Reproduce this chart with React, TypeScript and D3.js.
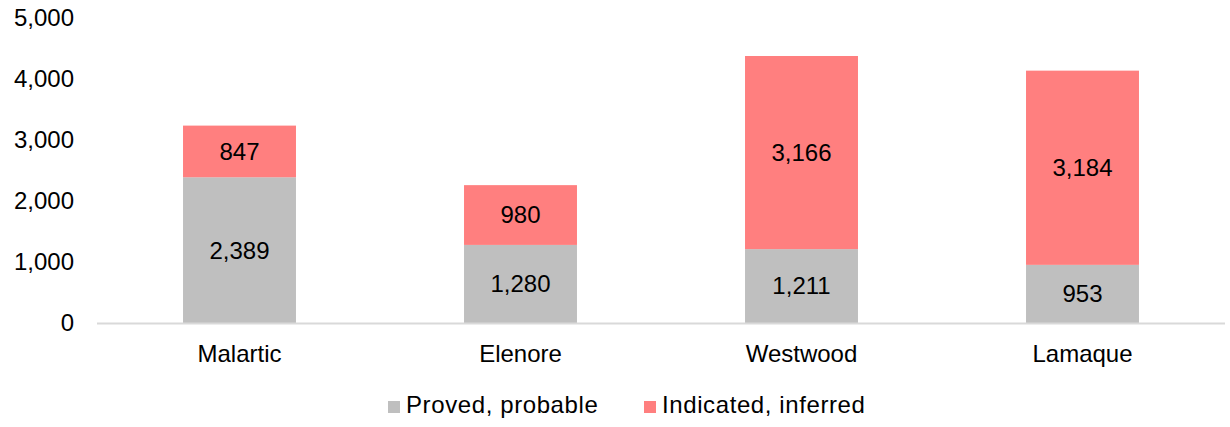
import React from "react";
import * as d3 from "d3";

const categories = ["Malartic", "Elenore", "Westwood", "Lamaque"];
const provedProbable = [2389, 1280, 1211, 953];
const indicatedInferred = [847, 980, 3166, 3184];
const yTicks = [0, 1000, 2000, 3000, 4000, 5000];
const seriesNames = ["Proved, probable", "Indicated, inferred"];
const seriesColors = ["#bfbfbf", "#ff7f7f"];

export default function App() {
  const W = 1230, H = 427;
  const left = 99, right = 1223;
  const x = d3.scaleBand<string>().domain(categories).range([left, right]).padding(0);
  const y = d3.scaleLinear().domain([0, 5000]).range([323, 18]);
  const barW = x.bandwidth() * 0.402;
  const fmt = d3.format(",");
  const font = "'Liberation Sans', Arial, sans-serif";
  const fs = 24;

  return (
    <svg width={W} height={H} style={{ position: "absolute", left: 0, top: 0, background: "#fff" }} fontFamily={font}>
      {yTicks.map((t) => (
        <text key={t} x={74} y={y(t)} dy="0.35em" textAnchor="end" fontSize={fs} fill="#000">
          {fmt(t)}
        </text>
      ))}
      {categories.map((c, i) => {
        const cx = (x(c) as number) + x.bandwidth() / 2;
        const x0 = cx - barW / 2;
        const a = provedProbable[i];
        const b = indicatedInferred[i];
        return (
          <g key={c}>
            <rect x={x0} y={y(a)} width={barW} height={y(0) - y(a)} fill={seriesColors[0]} />
            <rect x={x0} y={y(a + b)} width={barW} height={y(a) - y(a + b)} fill={seriesColors[1]} />
            <text x={cx} y={(y(0) + y(a)) / 2} dy="0.35em" textAnchor="middle" fontSize={fs} fill="#000">
              {fmt(a)}
            </text>
            <text x={cx} y={(y(a) + y(a + b)) / 2} dy="0.35em" textAnchor="middle" fontSize={fs} fill="#000">
              {fmt(b)}
            </text>
            <text x={cx} y={362} textAnchor="middle" fontSize={fs} fill="#000">
              {c}
            </text>
          </g>
        );
      })}
      <line x1={97} x2={1225} y1={y(0) + 0.5} y2={y(0) + 0.5} stroke="#d9d9d9" strokeWidth={2} />
      {seriesNames.map((s, i) => {
        const lx = i === 0 ? 388 : 644;
        return (
          <g key={s}>
            <rect x={lx} y={401} width={12} height={12} fill={seriesColors[i]} />
            <text x={lx + 18} y={413} fontSize={fs} letterSpacing={0.6} fill="#000">
              {s}
            </text>
          </g>
        );
      })}
    </svg>
  );
}
